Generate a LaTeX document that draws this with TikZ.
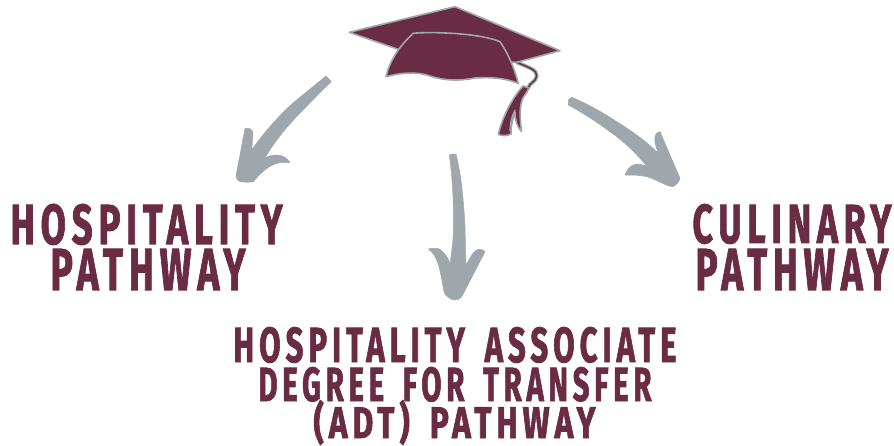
\documentclass[tikz,border=0pt]{standalone}
\usepackage{fontspec}
\usepackage{graphicx}
\setmainfont{Fira Sans}[UprightFont=* Bold,LetterSpace=16,FakeBold=1.8,WordSpace=1.6]
\definecolor{maroon}{HTML}{6A2C43}
\definecolor{arrowgray}{HTML}{A0A7AC}
\newcommand{\fitline}[3]{\resizebox{#1pt}{#2pt}{#3}}
\begin{document}
\begin{tikzpicture}[x=1pt,y=-1pt,
  sketcharrow/.style={fill=arrowgray,draw=arrowgray,line width=.5pt,line join=round},
  capshape/.style={fill=maroon,draw=arrowgray,line width=1.6pt,line join=round},
  label/.style={text=maroon,anchor=base,inner sep=0pt,font=\fontsize{20}{20}\selectfont}]
\useasboundingbox (0,0) rectangle (894,446);
\path[fill=white] (0,0) rectangle (894,446);
% cord and tassel
\draw[arrowgray,line width=3.8pt,line cap=round] (516.7,62.3) .. controls (530,68) and (537,70) .. (536.7,76) .. controls (536,82) and (530,82) .. (528,88);
\draw[maroon,line width=1.4pt,line cap=round] (516.7,62.3) .. controls (530,68) and (537,70) .. (536.7,76) .. controls (536,82) and (530,82) .. (528,88);
\path[capshape] (523,86) .. controls (512,98) and (502,118) .. (498.3,134.5) .. controls (503,136) and (507,136) .. (511,134) .. controls (511,124) and (513,118) .. (515,112) .. controls (515,120) and (517,127) .. (521.5,131.5) .. controls (520,118) and (519,106) .. (523,98) .. controls (526,93) and (528,91) .. (529,88) -- cycle;
\draw[arrowgray,line width=1.2pt,line cap=round] (510,131) .. controls (510,122) and (512,116) .. (515,110);
% mortarboard
\path[capshape] (455,6.7) -- (560,50.7) -- (516,62.5) -- (400,50) -- (349.3,32.3) -- cycle;
% crown
\path[capshape] (386,76.7) .. controls (389,63) and (398,47) .. (413.3,33.3) .. controls (430,31.5) and (480,33) .. (500,41.7) .. controls (508,53) and (515,70) .. (518.3,83.3) .. controls (505,78) and (490,77) .. (475,78) .. controls (460,81) and (445,81) .. (430,76) .. controls (415,71) and (400,73) .. (386,76.7) -- cycle;
% arrows
\path[sketcharrow] (326,76) -- (331.3,81.7) .. controls (320,92) and (312,101) .. (303,110) .. controls (288,125) and (274,142) .. (265,158) .. controls (274,153) and (285,154) .. (290,162.7) .. controls (278,161) and (268,164) .. (253.3,181.7) .. controls (248,182.5) and (243,182) .. (240,181.7) .. controls (237,180) and (236,178) .. (236,176) -- (245,128.3) .. controls (250,127.5) and (252,130) .. (253,131.7) -- (251.7,150) .. controls (260,138) and (276,118) .. (293,103) -- cycle;
\path[sketcharrow] (449.3,155) .. controls (451,154) and (454,153.5) .. (456,154.3) .. controls (460,170) and (463,190) .. (465,226.7) -- (466,265) .. controls (470,258) and (474,250) .. (478.3,249.3) .. controls (481,249) and (484,250) .. (485,251.7) -- (461.7,296.7) .. controls (459,300) and (456,300) .. (453.3,300) .. controls (450,299) and (446,296) .. (444.3,293) .. controls (441,275) and (439,263) .. (435,256.7) .. controls (433,253) and (431,251) .. (428.3,249) .. controls (433,248) and (438,248) .. (440,249.5) .. controls (445,253) and (448,258) .. (450,263.3) .. controls (452,250) and (453.5,240) .. (453.3,226.7) .. controls (454,200) and (452,175) .. (449.3,155) -- cycle;
\path[sketcharrow] (568.3,100) -- (571.7,97.3) .. controls (590,105) and (605,114) .. (616.7,121.7) .. controls (632,131) and (647,142) .. (658.3,153.3) .. controls (656,147) and (654,141) .. (655,136.7) .. controls (656,133) and (658,132) .. (660,131.7) -- (680,178.3) .. controls (679,182) and (676,185) .. (673.3,186.7) .. controls (665,186) and (656,179) .. (646.7,176.7) .. controls (640,175) and (632,175) .. (625,175) .. controls (627,170) and (630,166) .. (633.3,165) .. controls (638,163) and (642,165) .. (646.7,166) .. controls (635,152) and (622,140) .. (610,131.7) .. controls (598,123) and (585,114) .. (568.3,105) -- cycle;
% labels
\node[label] (hospa) at (146.5,244) {\fitline{272}{40}{HOSPITALITY}};
\node[label] (hospb) at (148,290) {\fitline{195}{41}{PATHWAY}};
\node[label] (culia) at (792,243) {\fitline{199}{39}{CULINARY}};
\node[label] (culib) at (792,290) {\fitline{193}{41}{PATHWAY}};
\node[label] (adta) at (455,362) {\fitline{443}{35}{HOSPITALITY ASSOCIATE}};
\node[label] (adtb) at (455,401) {\fitline{393}{34}{DEGREE FOR TRANSFER}};
\node[label] (adtc) at (454.5,438) {\fitline{282}{38}{(ADT) PATHWAY}};
\end{tikzpicture}
\end{document}
